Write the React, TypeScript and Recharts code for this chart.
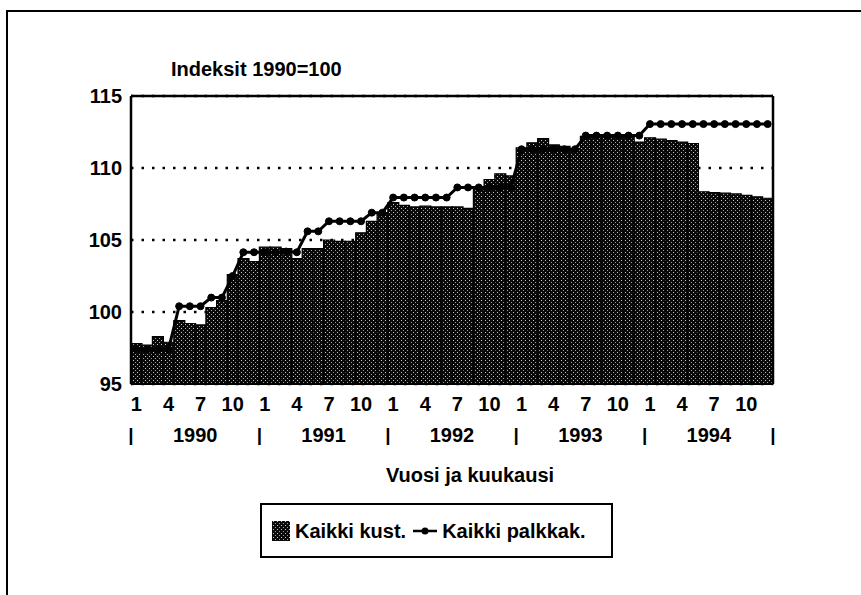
import {
  Bar,
  CartesianGrid,
  ComposedChart,
  Line,
  ReferenceLine,
  XAxis,
  YAxis,
} from 'recharts';

const years = ['1990', '1991', '1992', '1993', '1994'];
const monthTicks = ['1', '4', '7', '10'];
const yTicks = [95, 100, 105, 110, 115];

// Kaikki kust., one value per month 1/1990 - 12/1994
const kust = [
  97.8, 97.7, 98.3, 97.9, 99.4, 99.2, 99.1, 100.3, 100.8, 102.6, 103.7, 103.5,
  104.5, 104.5, 104.4, 103.7, 104.4, 104.4, 105.0, 104.9, 104.9, 105.5, 106.3, 106.9,
  107.6, 107.4, 107.3, 107.35, 107.3, 107.3, 107.3, 107.2, 108.6, 109.2, 109.6, 109.45,
  111.4, 111.75, 112.05, 111.6, 111.5, 111.35, 112.2, 112.2, 112.2, 112.2, 112.2, 111.8,
  112.1, 112.0, 111.9, 111.8, 111.7, 108.35, 108.3, 108.25, 108.2, 108.1, 108.0, 107.9,
];

// Kaikki palkkak.
const palkkak = [
  97.4, 97.4, 97.4, 97.4, 100.4, 100.4, 100.4, 101.0, 101.0, 102.5, 104.15, 104.15,
  104.15, 104.15, 104.2, 104.15, 105.6, 105.6, 106.3, 106.3, 106.3, 106.3, 106.9, 106.9,
  107.95, 107.95, 107.95, 107.95, 107.95, 107.95, 108.65, 108.65, 108.65, 108.65, 108.65, 108.65,
  111.3, 111.3, 111.3, 111.3, 111.3, 111.3, 112.25, 112.25, 112.25, 112.25, 112.25, 112.25,
  113.05, 113.05, 113.05, 113.05, 113.05, 113.05, 113.05, 113.05, 113.05, 113.05, 113.05, 113.05,
];

const rows = kust.map((v, i) => ({
  key: `${years[Math.floor(i / 12)]}-${(i % 12) + 1}`,
  kust: v,
  palkkak: palkkak[i],
}));

const W = 861;
const H = 595;
const PLOT = { left: 131, right: 773, top: 96, bottom: 384 };
const band = (PLOT.right - PLOT.left) / rows.length;
const FONT = '"Liberation Sans", Arial, Helvetica, sans-serif';
const txt = { fontFamily: FONT, fontWeight: 700, fontSize: 20, fill: '#000' };

function Stipple({ id }: { id: string }) {
  return (
    <pattern id={id} width={4} height={4} patternUnits="userSpaceOnUse">
      <rect width={4} height={4} fill="#0a0a0a" />
      <rect x={1} y={0} width={1} height={1} fill="#c8c8c8" />
      <rect x={3} y={2} width={1} height={1} fill="#a0a0a0" />
    </pattern>
  );
}

function MonthTick({ x, y, payload }: any) {
  const [year, month] = String(payload.value).split('-');
  const last = payload.value === rows[rows.length - 1].key;
  const left = x - band / 2;
  return (
    <g>
      {monthTicks.includes(month) && (
        <text x={x} y={y + 27} textAnchor="middle" {...txt}>
          {month}
        </text>
      )}
      {month === '1' && (
        <>
          <text x={left} y={y + 57} textAnchor="middle" {...txt} fontSize={19}>
            |
          </text>
          <text x={left + 6 * band} y={y + 58} textAnchor="middle" {...txt}>
            {year}
          </text>
        </>
      )}
      {last && (
        <text x={x + band / 2} y={y + 57} textAnchor="middle" {...txt} fontSize={19}>
          |
        </text>
      )}
    </g>
  );
}

function LegendBox() {
  return (
    <div
      style={{
        position: 'absolute',
        left: 260,
        top: 503,
        width: 339,
        height: 51,
        border: '2px solid #000',
        display: 'flex',
        alignItems: 'center',
        paddingLeft: 10,
        boxSizing: 'content-box',
        fontFamily: FONT,
        fontWeight: 700,
        fontSize: 20,
        lineHeight: '20px',
      }}
    >
      <svg width={18} height={20} style={{ marginRight: 5 }}>
        <defs>
          <Stipple id="stipLegend" />
        </defs>
        <rect x={0} y={0} width={18} height={20} fill="url(#stipLegend)" />
      </svg>
      <span style={{ marginRight: 7 }}>Kaikki kust.</span>
      <svg width={24} height={10} style={{ marginRight: 5 }}>
        <line x1={0} y1={5} x2={24} y2={5} stroke="#000" strokeWidth={2.5} />
        <circle cx={12} cy={5} r={3.5} fill="#000" />
      </svg>
      <span>Kaikki palkkak.</span>
    </div>
  );
}

export default function App() {
  return (
    <div style={{ position: 'relative', width: W, height: H, background: '#fff' }}>
      <style>{'body{margin:0}'}</style>
      <div
        style={{
          position: 'absolute',
          left: 6,
          top: 10,
          right: 0,
          bottom: 0,
          borderLeft: '2px solid #000',
          borderTop: '2px solid #000',
        }}
      />
      <div
        style={{
          position: 'absolute',
          left: 171,
          top: 59,
          fontFamily: FONT,
          fontWeight: 700,
          fontSize: 20,
          lineHeight: '20px',
          whiteSpace: 'nowrap',
        }}
      >
        Indeksit 1990=100
      </div>
      <div
        style={{
          position: 'absolute',
          left: 470,
          top: 465,
          transform: 'translateX(-50%)',
          fontFamily: FONT,
          fontWeight: 700,
          fontSize: 20,
          lineHeight: '20px',
          whiteSpace: 'nowrap',
        }}
      >
        Vuosi ja kuukausi
      </div>
      <div style={{ position: 'absolute', left: 0, top: 0 }}>
        <ComposedChart
          width={W}
          height={H}
          data={rows}
          margin={{ top: PLOT.top, right: W - PLOT.right - 1, bottom: 0, left: 0 }}
          barCategoryGap={0}
          barGap={0}
        >
          <defs>
            <Stipple id="stip" />
          </defs>
          <CartesianGrid
            vertical={false}
            stroke="#000"
            strokeWidth={2.5}
            strokeDasharray="2.5 8"
          />
          <XAxis
            dataKey="key"
            interval={0}
            height={H - PLOT.bottom}
            tickSize={0}
            tickMargin={0}
            tickLine={false}
            axisLine={{ stroke: '#000', strokeWidth: 2 }}
            tick={<MonthTick />}
          />
          <YAxis
            domain={[95, 115]}
            ticks={yTicks}
            width={PLOT.left}
            tickSize={0}
            tickMargin={9}
            tickLine={false}
            axisLine={{ stroke: '#000', strokeWidth: 2.5 }}
            tick={txt}
          />
          <YAxis
            yAxisId="r"
            orientation="right"
            domain={[95, 115]}
            width={1}
            tick={false}
            tickLine={false}
            axisLine={{ stroke: '#000', strokeWidth: 2.5 }}
          />
          <ReferenceLine y={115} stroke="#000" strokeWidth={2.5} />
          <Bar
            dataKey="kust"
            fill="url(#stip)"
            stroke="#000"
            strokeWidth={1.2}
            isAnimationActive={false}
          />
          <Line
            dataKey="palkkak"
            type="linear"
            stroke="#000"
            strokeWidth={3}
            dot={{ r: 3.5, fill: '#000', stroke: '#000', strokeWidth: 1 }}
            activeDot={false}
            isAnimationActive={false}
          />
        </ComposedChart>
      </div>
      <LegendBox />
    </div>
  );
}
